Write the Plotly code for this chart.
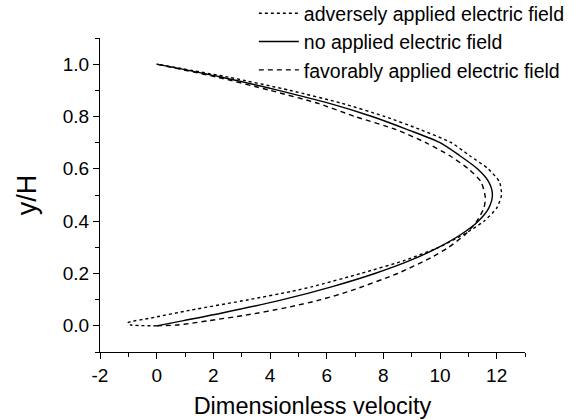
import plotly.graph_objects as go

# Velocity profiles across the channel height (y/H) for three electric-field cases
y_none = [0.0, 0.02, 0.05, 0.10, 0.15, 0.20, 0.25, 0.30, 0.35, 0.40, 0.45, 0.50,
          0.55, 0.60, 0.65, 0.70, 0.75, 0.80, 0.85, 0.90, 0.95, 1.0]
u_none = [0.0, 0.95, 2.35, 4.45, 6.2, 7.7, 8.95, 9.95, 10.75, 11.35, 11.72, 11.85,
          11.72, 11.32, 10.7, 10.0, 8.85, 7.6, 6.1, 4.3, 2.3, 0.0]

y_adverse = [0.0, 0.003, 0.008, 0.013, 0.03, 0.06, 0.10, 0.131, 0.15, 0.20, 0.25, 0.30,
             0.35, 0.40, 0.45, 0.50, 0.55, 0.60, 0.65, 0.70, 0.75, 0.80, 0.85, 0.90, 0.95, 1.0]
u_adverse = [0.0, -0.9, -1.02, -1.0, -0.2, 1.2, 3.25, 4.73, 5.5, 7.2, 8.75, 9.95,
             10.85, 11.55, 12.0, 12.17, 12.1, 11.7, 11.05, 10.4, 9.3, 8.05, 6.55, 4.7, 2.55, 0.0]

y_favor = [0.0, 0.003, 0.01, 0.02, 0.04, 0.07, 0.10, 0.134, 0.20, 0.261, 0.30, 0.35,
           0.40, 0.45, 0.49, 0.55, 0.60, 0.65, 0.70, 0.75, 0.80, 0.85, 0.90, 0.95, 1.0]
u_favor = [0.0, 0.7, 1.25, 1.85, 3.1, 4.6, 5.8, 6.85, 8.5, 9.69, 10.3, 10.9,
           11.3, 11.55, 11.6, 11.45, 11.0, 10.35, 9.5, 8.45, 7.0, 5.7, 4.0, 2.15, 0.0]

x_tick_vals = [-2, 0, 2, 4, 6, 8, 10, 12]
x_tick_text = ["-2", "0", "2", "4", "6", "8", "10", "12"]
y_tick_vals = [0.0, 0.2, 0.4, 0.6, 0.8, 1.0]
y_tick_text = ["0.0", "0.2", "0.4", "0.6", "0.8", "1.0"]

FONT = "Arial, Liberation Sans, sans-serif"

fig = go.Figure()
fig.add_trace(go.Scatter(x=u_adverse, y=y_adverse, mode="lines",
                         name="adversely applied electric field",
                         line=dict(color="black", width=1.4, dash="dot", shape="spline", smoothing=0.6)))
fig.add_trace(go.Scatter(x=u_none, y=y_none, mode="lines",
                         name="no applied electric field",
                         line=dict(color="black", width=1.4, shape="spline", smoothing=0.8)))
fig.add_trace(go.Scatter(x=u_favor, y=y_favor, mode="lines",
                         name="favorably applied electric field",
                         line=dict(color="black", width=1.4, dash="5px,4px", shape="spline", smoothing=0.6)))

axis_common = dict(showline=True, linecolor="black", linewidth=1.3, ticks="outside",
                   ticklen=6, tickwidth=1.3, tickcolor="black", showgrid=False,
                   zeroline=False, mirror=False,
                   tickfont=dict(family=FONT, size=19, color="black"))

fig.update_layout(
    width=586, height=420,
    margin=dict(l=100, r=61, t=38, b=68, autoexpand=False),
    paper_bgcolor="white", plot_bgcolor="white",
    font=dict(family=FONT, color="black"),
    showlegend=True,
    legend=dict(x=0.362, y=1.14, xanchor="left", yanchor="top",
                bgcolor="rgba(0,0,0,0)", font=dict(family=FONT, size=19.5, color="black"),
                tracegroupgap=0, itemwidth=40),
    xaxis=dict(range=[-2, 13], tickvals=x_tick_vals, ticktext=x_tick_text,
               minor=dict(dtick=1, tick0=0, ticks="outside", ticklen=4, tickwidth=1.3, tickcolor="black"),
               title=dict(text="Dimensionless velocity", font=dict(family=FONT, size=23.5), standoff=12),
               **axis_common),
    yaxis=dict(range=[-0.1, 1.1], tickvals=y_tick_vals, ticktext=y_tick_text,
               minor=dict(dtick=0.1, tick0=0, ticks="outside", ticklen=4, tickwidth=1.3, tickcolor="black"),
               title=dict(text="y/H", font=dict(family=FONT, size=27), standoff=18),
               **axis_common),
)

fig.write_html("out.html")
